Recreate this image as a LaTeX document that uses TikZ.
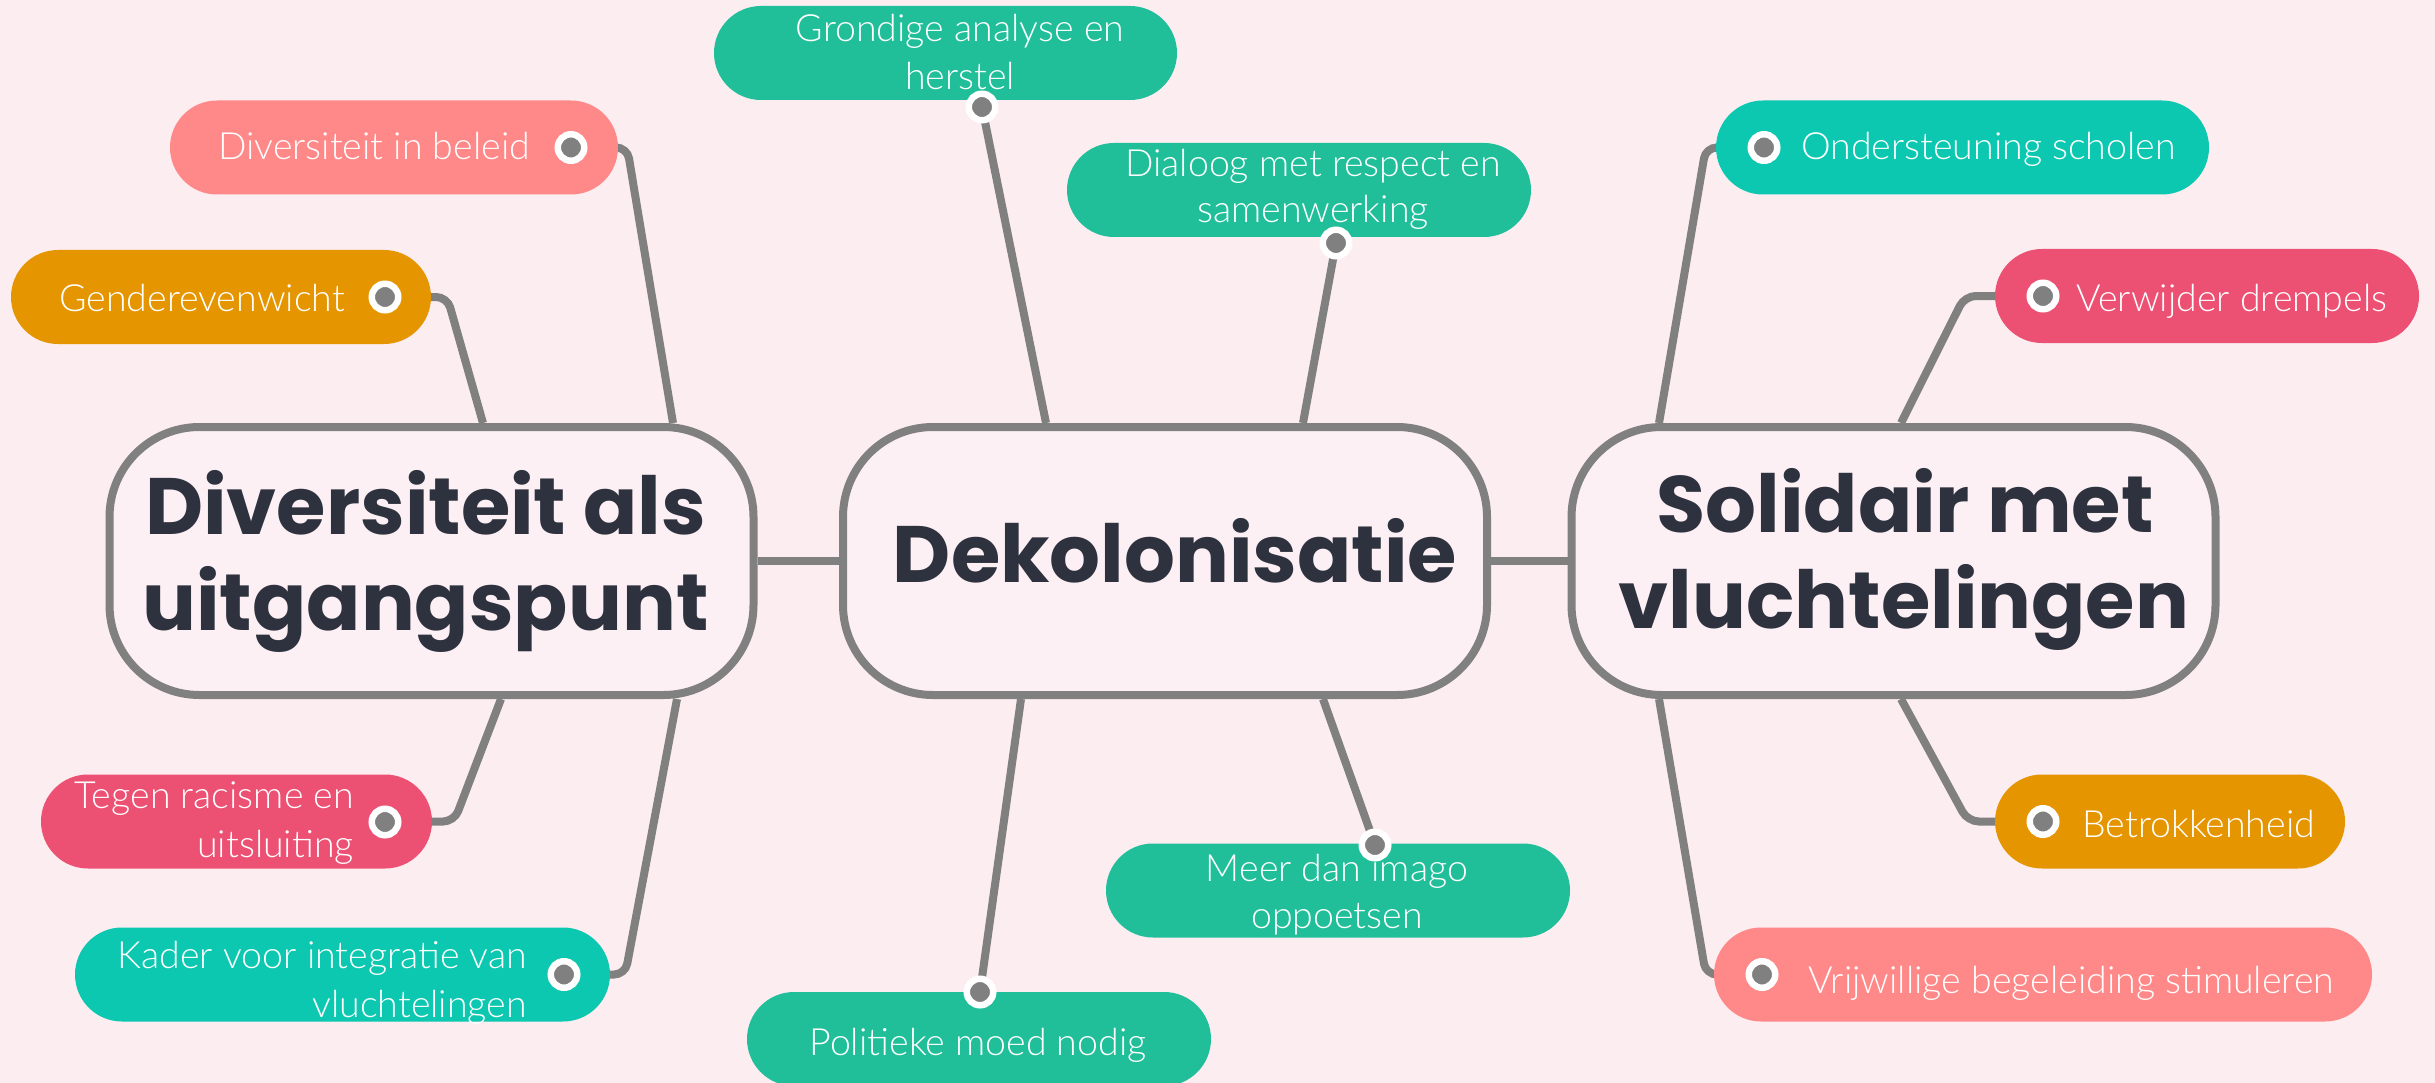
\documentclass[tikz,border=0pt]{standalone}
\usepackage{fontspec}
\usetikzlibrary{calc}
\newfontfamily\popb{Poppins}
\newfontfamily\lato{Lato Light}
\definecolor{bgc}{HTML}{FCEDF1}
\definecolor{boxfill}{HTML}{FDF0F4}
\definecolor{linegray}{HTML}{808080}
\definecolor{darktext}{HTML}{2E323E}
\definecolor{salmon}{HTML}{FF8888}
\definecolor{orangec}{HTML}{E59500}
\definecolor{pinkred}{HTML}{EC5073}
\definecolor{tealc}{HTML}{0CC8B0}
\definecolor{greenc}{HTML}{20BF9A}
\pgfdeclarelayer{bg}
\pgfsetlayers{bg,main}
\tikzset{
  hub/.style={rectangle, rounded corners=90pt, draw=linegray, line width=8pt, fill=boxfill,
    minimum width=644pt, minimum height=268pt, inner sep=0pt},
  hubtext/.style={text=darktext, font=\popb\bfseries\fontsize{80}{96}\selectfont, inner sep=0pt, anchor=base},
  pill/.style={rectangle, rounded corners=47pt, minimum height=94pt, inner sep=0pt, draw=none},
  lbl/.style={text=white, font=\lato\fontsize{37.5}{49}\selectfont, inner sep=0pt},
  mk/.style={circle, fill=linegray, draw=white, line width=6.5pt, minimum size=26.5pt, inner sep=0pt},
  conn/.style={draw=linegray, line width=8pt, rounded corners=11pt},
}
\begin{document}
\begin{tikzpicture}[x=1pt,y=-1pt]
\useasboundingbox (0,0) rectangle (2435,1083);
\begin{pgfonlayer}{bg}
\fill[bgc] (0,0) rectangle (2435,1083);
\end{pgfonlayer}

% hubs
\node[hub] (L) at (431.5,561) {};
\node[hub] (M) at (1165,561) {};
\node[hub] (R) at (1893.5,561) {};
\node[hubtext] (L1) at (425.5,534) {Diversiteit als};
\node[hubtext] (L2) at (425.5,630) {uitgangspunt};
\node[hubtext] (M1) at (1175,582) {Dekolonisatie};
\node[hubtext] (R1) at (1905,532) {Solidair met};
\node[hubtext] (R2) at (1904,628) {vluchtelingen};

% pills
\node[pill, fill=salmon, minimum width=448pt] (P1) at (394,147.5) {};
\node[pill, fill=orangec, minimum width=420pt] (P2) at (221,297) {};
\node[pill, fill=pinkred, minimum width=391pt] (P3) at (236.5,821.5) {};
\node[pill, fill=tealc, minimum width=535pt] (P4) at (342.5,974.5) {};
\node[pill, fill=greenc, minimum width=463pt] (P5) at (945.5,53) {};
\node[pill, fill=greenc, minimum width=464pt] (P6) at (1299,190) {};
\node[pill, fill=greenc, minimum width=464pt] (P7) at (1338,890.5) {};
\node[pill, fill=greenc, minimum width=464pt] (P8) at (979,1039) {};
\node[pill, fill=tealc, minimum width=493pt] (P9) at (1962.5,147.5) {};
\node[pill, fill=pinkred, minimum width=424pt] (P10) at (2207,296) {};
\node[pill, fill=orangec, minimum width=350pt] (P11) at (2170,821.5) {};
\node[pill, fill=salmon, minimum width=658pt] (P12) at (2043,974.5) {};

% labels
\node[lbl, anchor=base east] (T1) at (530,160) {Diversiteit in beleid};
\node[lbl, anchor=base east] (T2) at (345,312) {Genderevenwicht};
\node[lbl, anchor=base east] (T3a) at (354,808) {Tegen racisme en};
\node[lbl, anchor=base east] (T3b) at (354,857) {uitsluiting};
\node[lbl, anchor=base east] (T4a) at (527,968) {Kader voor integratie van};
\node[lbl, anchor=base east] (T4b) at (527,1017) {vluchtelingen};
\node[lbl, anchor=base] (T5a) at (960,42) {Grondige analyse en};
\node[lbl, anchor=base] (T5b) at (960,90) {herstel};
\node[lbl, anchor=base] (T6a) at (1313,177) {Dialoog met respect en};
\node[lbl, anchor=base] (T6b) at (1313,223) {samenwerking};
\node[lbl, anchor=base] (T7a) at (1337,881) {Meer dan imago};
\node[lbl, anchor=base] (T7b) at (1337,928) {oppoetsen};
\node[lbl, anchor=base] (T8) at (978,1055) {Politieke moed nodig};
\node[lbl, anchor=base west] (T9) at (1801,160) {Ondersteuning scholen};
\node[lbl, anchor=base west] (T10) at (2076,311) {Verwijder drempels};
\node[lbl, anchor=base west] (T11) at (2082,837) {Betrokkenheid};
\node[lbl, anchor=base west] (T12) at (1808,993) {Vrijwillige begeleiding stimuleren};

% markers
\node[mk] (K1) at (571,147.5) {};
\node[mk] (K2) at (385,297) {};
\node[mk] (K3) at (385,822) {};
\node[mk] (K4) at (564,974.5) {};
\node[mk] (K5) at (982,107) {};
\node[mk] (K6) at (1336,243) {};
\node[mk] (K7) at (1375,845) {};
\node[mk] (K8) at (980,992) {};
\node[mk] (K9) at (1764,147.5) {};
\node[mk] (K10) at (2043,296) {};
\node[mk] (K11) at (2043,821.5) {};
\node[mk] (K12) at (1762,974.5) {};

% connectors
\begin{pgfonlayer}{bg}
\draw[conn] (L.east) -- (M.west);
\draw[conn] (M.east) -- (R.west);
\draw[conn] (P1.east) -- ++(9,0) -- ($(L.north)+(241.5,0)$);
\draw[conn] (P2.east) -- ++(16,0) -- ($(L.north)+(51.5,0)$);
\draw[conn] (P3.east) -- ++(22,0) -- ($(L.south)+(69.5,0)$);
\draw[conn] (P4.east) -- ++(15,0) -- ($(L.south)+(245.5,0)$);
\draw[conn] (K5.center) -- ($(M.north)+(-119,0)$);
\draw[conn] (K6.center) -- ($(M.north)+(138,0)$);
\draw[conn] (K7.center) -- ($(M.south)+(158,0)$);
\draw[conn] (K8.center) -- ($(M.south)+(-144,0)$);
\draw[conn] (P9.west) -- ++(-10,0) -- ($(R.north)+(-234.5,0)$);
\draw[conn] (P10.west) -- ++(-30,0) -- ($(R.north)+(7.5,0)$);
\draw[conn] (P11.west) -- ++(-27,0) -- ($(R.south)+(7.5,0)$);
\draw[conn] (P12.west) -- ++(-8,0) -- ($(R.south)+(-234.5,0)$);
\end{pgfonlayer}
\end{tikzpicture}
\end{document}
